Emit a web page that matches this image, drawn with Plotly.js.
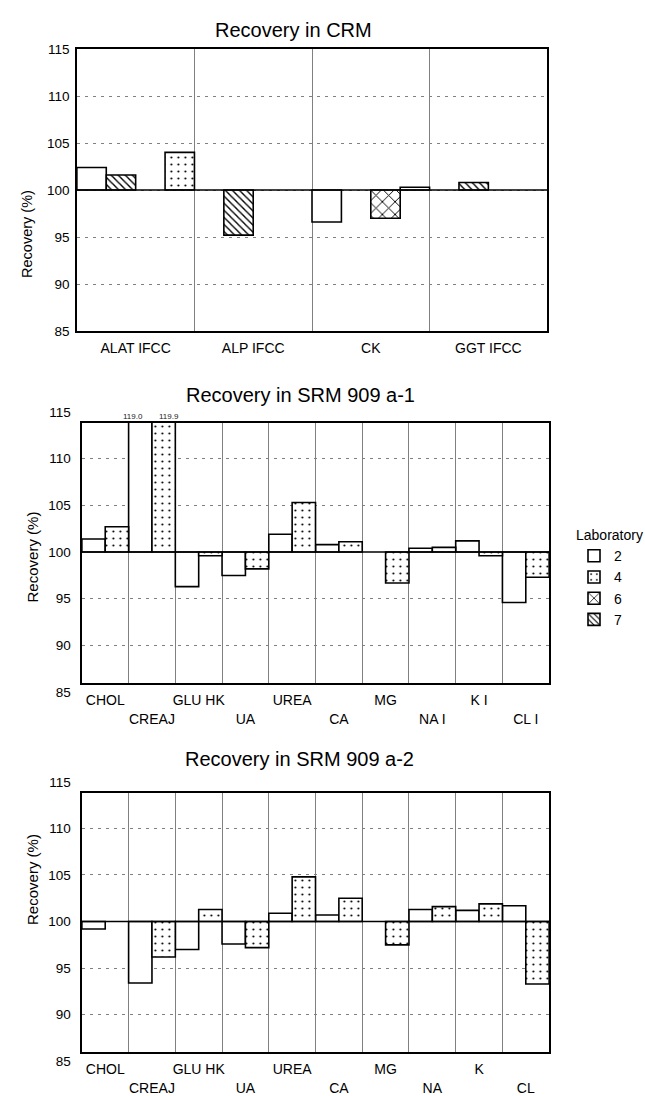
<!DOCTYPE html>
<html><head><meta charset="utf-8">
<script src="https://cdn.plot.ly/plotly-3.0.1.min.js"></script>
<style>html,body{margin:0;padding:0;background:#fff}#chart{width:645px;height:1096px}</style>
</head><body><div id="chart"></div>
<script>
// ---- data ----
const crmCategories = ['ALAT IFCC', 'ALP IFCC', 'CK', 'GGT IFCC'];
const crmLab2 = [102.4, null, 96.6, null];
const crmLab7 = [101.6, 95.2, null, 100.8];
const crmLab6 = [null, null, 97.0, null];
const crmLab4 = [104.0, null, 100.3, null];

const srm1Categories = ['CHOL', 'CREAJ', 'GLU HK', 'UA', 'UREA', 'CA', 'MG', 'NA I', 'K I', 'CL I'];
const srm1Lab2 = [101.4, 119.0, 96.3, 97.5, 101.9, 100.8, null, 100.4, 101.2, 94.6];
const srm1Lab4 = [102.7, 119.9, 99.6, 98.2, 105.3, 101.1, 96.7, 100.5, 99.6, 97.3];

const srm2Categories = ['CHOL', 'CREAJ', 'GLU HK', 'UA', 'UREA', 'CA', 'MG', 'NA', 'K', 'CL'];
const srm2Lab2 = [99.2, 93.4, 97.0, 97.6, 100.9, 100.7, null, 101.3, 101.2, 101.7];
const srm2Lab4 = [null, 96.2, 101.3, 97.2, 104.8, 102.5, 97.5, 101.6, 101.9, 93.3];

const yTickValues = [85, 90, 95, 100, 105, 110, 115];
const gridValues = [90, 95, 105, 110];
const baseline = 100;
const chartTitles = ['Recovery in CRM', 'Recovery in SRM 909 a-1', 'Recovery in SRM 909 a-2'];
const yTitle = 'Recovery (%)';
const legendTitle = 'Laboratory';

// ---- styles ----
const FONT = '"Liberation Sans", Arial, Helvetica, sans-serif';
const W = 645, H = 1096;
const px = v => v / W;
const py = v => 1 - v / H;

const labStyle = {
  '2': {color: '#ffffff', pattern: {shape: ''}},
  '4': {color: '#ffffff', pattern: {shape: '.', fgcolor: '#000', bgcolor: '#fff', size: 7, solidity: 0.07}},
  '6': {color: '#ffffff', pattern: {shape: 'x', fgcolor: '#000', bgcolor: '#fff', size: 9, solidity: 0.2}},
  '7': {color: '#ffffff', pattern: {shape: '\\', fgcolor: '#000', bgcolor: '#fff', size: 5, solidity: 0.28}}
};

function bar(lab, cats, vals, xa, ya, showlegend) {
  const st = labStyle[lab];
  return {
    type: 'bar', name: lab, x: cats,
    y: vals.map(v => v === null ? null : v - baseline),
    base: baseline, xaxis: xa, yaxis: ya,
    showlegend: showlegend, legendrank: Number(lab),
    marker: {color: st.color, pattern: st.pattern, line: {color: '#000', width: 1.6}},
    hoverinfo: 'skip'
  };
}

const traces = [
  bar('2', crmCategories, crmLab2, 'x', 'y', true),
  bar('7', crmCategories, crmLab7, 'x', 'y', true),
  bar('6', crmCategories, crmLab6, 'x', 'y', true),
  bar('4', crmCategories, crmLab4, 'x', 'y', true),
  bar('2', srm1Categories, srm1Lab2, 'x2', 'y2', false),
  bar('4', srm1Categories, srm1Lab4, 'x2', 'y2', false),
  bar('2', srm2Categories, srm2Lab2, 'x3', 'y3', false),
  bar('4', srm2Categories, srm2Lab4, 'x3', 'y3', false),
  // anchors for the label-only y axes
  {type: 'scatter', mode: 'markers', x: [0], y: [null], xaxis: 'x4', yaxis: 'y4', showlegend: false, hoverinfo: 'skip'},
  {type: 'scatter', mode: 'markers', x: [0], y: [null], xaxis: 'x5', yaxis: 'y5', showlegend: false, hoverinfo: 'skip'}
];

function catAxis(domain, anchor, cats, stagger) {
  return {
    domain: domain, anchor: anchor, type: 'category',
    tickmode: 'array', tickvals: cats,
    ticktext: stagger ? cats.map((c, i) => (i % 2 ? '<br>' + c : c)) : cats,
    tickangle: 0,
    tickson: 'boundaries', showgrid: true, gridcolor: '#808080', gridwidth: 1,
    ticks: '', showline: true, mirror: true, linecolor: '#000', linewidth: 1.6,
    tickfont: {size: 14, color: '#000'}, ticklabelstandoff: 4, zeroline: false, fixedrange: true
  };
}
function frameYAxis(domain, anchor, range, labels) {
  return {
    domain: domain, anchor: anchor, range: range,
    tickmode: 'array', tickvals: labels ? yTickValues : gridValues,
    showticklabels: labels, ticks: '', ticklabelstandoff: 3,
    tickfont: {size: 13.5, color: '#000'},
    showgrid: true, gridcolor: '#808080', gridwidth: 1, griddash: '3px,5px',
    showline: true, mirror: true, linecolor: '#000', linewidth: 1.6,
    zeroline: false, fixedrange: true
  };
}
function labelYAxis(domain, anchor) {
  return {
    domain: domain, anchor: anchor, range: [85, 115],
    tickmode: 'array', tickvals: yTickValues, ticks: '', ticklabelstandoff: 10,
    tickfont: {size: 13.5, color: '#000'},
    showgrid: false, showline: false, zeroline: false, fixedrange: true
  };
}
function hiddenX(domain, anchor) {
  return {domain: domain, anchor: anchor, range: [-1, 1], visible: false, fixedrange: true};
}

const x1Dom = [px(77), px(548)];
const x23Dom = [px(82), px(550)];

const layout = {
  width: W, height: H, margin: {l: 0, r: 0, t: 0, b: 0},
  paper_bgcolor: '#fff', plot_bgcolor: 'rgba(0,0,0,0)',
  font: {family: FONT, size: 14, color: '#000'},
  barmode: 'group', bargap: 0, bargroupgap: 0,
  showlegend: true,
  legend: {
    x: px(575), xanchor: 'left', y: py(522), yanchor: 'top',
    title: {text: legendTitle, font: {size: 14}},
    font: {size: 14}, bgcolor: 'rgba(0,0,0,0)', tracegroupgap: 0,
    itemclick: false, itemdoubleclick: false
  },
  xaxis: catAxis(x1Dom, 'y', crmCategories, false),
  yaxis: frameYAxis([py(331), py(49)], 'x', [85, 115], true),
  xaxis2: catAxis(x23Dom, 'y2', srm1Categories, true),
  yaxis2: frameYAxis([py(683), py(423)], 'x2', [86, 113.8], false),
  xaxis3: catAxis(x23Dom, 'y3', srm2Categories, true),
  yaxis3: frameYAxis([py(1052), py(793)], 'x3', [86, 113.8], false),
  xaxis4: hiddenX(x23Dom, 'y4'),
  yaxis4: labelYAxis([py(692), py(412)], 'x4'),
  xaxis5: hiddenX(x23Dom, 'y5'),
  yaxis5: labelYAxis([py(1061), py(782)], 'x5'),
  shapes: [
    {type: 'line', xref: 'x domain', yref: 'y', x0: 0, x1: 1, y0: baseline, y1: baseline, line: {color: '#000', width: 1.6}},
    {type: 'line', xref: 'x2 domain', yref: 'y2', x0: 0, x1: 1, y0: baseline, y1: baseline, line: {color: '#000', width: 1.6}},
    {type: 'line', xref: 'x3 domain', yref: 'y3', x0: 0, x1: 1, y0: baseline, y1: baseline, line: {color: '#000', width: 1.6}}
  ],
  annotations: [
    {text: chartTitles[0], xref: 'paper', yref: 'paper', x: px(294), y: py(17), showarrow: false, font: {size: 20}},
    {text: chartTitles[1], xref: 'paper', yref: 'paper', x: px(301), y: py(395), showarrow: false, font: {size: 20}},
    {text: chartTitles[2], xref: 'paper', yref: 'paper', x: px(300), y: py(772), showarrow: false, font: {size: 20}},
    {text: yTitle, xref: 'paper', yref: 'paper', x: px(17), y: py(188), textangle: -90, showarrow: false, font: {size: 14.5}},
    {text: yTitle, xref: 'paper', yref: 'paper', x: px(22), y: py(557), textangle: -90, showarrow: false, font: {size: 15}},
    {text: yTitle, xref: 'paper', yref: 'paper', x: px(22), y: py(927), textangle: -90, showarrow: false, font: {size: 15}}
  ]
};

// value labels for bars that run off the top of SRM 909 a-1
const topLimit = layout.yaxis2.range[1];
srm1Categories.forEach((c, i) => {
  [[srm1Lab2[i], -19], [srm1Lab4[i], 17]].forEach(([v, shift]) => {
    if (v !== null && v > topLimit) {
      layout.annotations.push({text: v.toFixed(1), xref: 'x2', yref: 'paper', x: c, y: py(416),
        xshift: shift, showarrow: false, font: {size: 8, color: '#222'}});
    }
  });
});

Plotly.newPlot('chart', traces, layout, {displayModeBar: false, staticPlot: true});
</script>
</body></html>
